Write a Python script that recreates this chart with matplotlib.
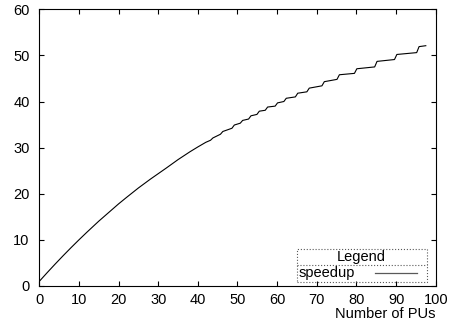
import matplotlib
matplotlib.use("Agg")
import matplotlib.pyplot as plt
from matplotlib.patches import Rectangle

plt.rcParams['font.family'] = ['Liberation Sans', 'DejaVu Sans']

# speedup curve (smooth part, then the stepped part)
pus = [0, 2, 4, 6, 8, 10, 12, 15, 18, 20, 22, 25, 28, 30, 32, 35, 38, 40, 42,
       43.2, 43.8, 45.7, 46.3, 48.6, 49.2, 50.7, 51.3, 52.8, 53.4, 54.9, 55.5,
       57.0, 57.6, 59.5, 60.1, 61.7, 62.3, 64.6, 65.2, 67.5, 68.1, 71.3, 71.9,
       75.1, 75.7, 79.5, 80.1, 84.6, 85.2, 89.6, 90.2, 95.2, 95.8, 97.5]
speedup = [1.0, 2.9, 4.75, 6.55, 8.3, 10.0, 11.65, 14.05, 16.3, 17.8, 19.2, 21.25, 23.15, 24.35, 25.55, 27.4, 29.1, 30.15, 31.15,
           31.6, 32.1, 32.9, 33.5, 34.2, 34.9, 35.3, 35.9, 36.2, 36.9, 37.2, 37.9,
           38.1, 38.8, 39.0, 39.7, 40.0, 40.7, 41.0, 41.8, 42.1, 42.9, 43.4, 44.3,
           44.8, 45.8, 46.1, 47.1, 47.5, 48.7, 49.1, 50.2, 50.6, 51.9, 52.1]

xticks = [0, 10, 20, 30, 40, 50, 60, 70, 80, 90, 100]
yticks = [0, 10, 20, 30, 40, 50, 60]

fs = 10.5

fig = plt.figure(figsize=(4.51, 3.31), dpi=100)
ax = fig.add_axes([0.0871, 0.136, 0.879, 0.836])

ax.plot(pus, speedup, color='black', lw=0.8)

ax.set_xlim(0, 100)
ax.set_ylim(0, 60)
ax.set_xticks(xticks)
ax.set_yticks(yticks)
ax.tick_params(direction='in', length=3.5, width=0.8, top=True, right=True,
               labelsize=fs, colors='black')
ax.tick_params(axis='x', pad=5)
ax.tick_params(axis='y', pad=7)
for s in ax.spines.values():
    s.set_linewidth(0.8)

ax.set_xlabel('Number of PUs', loc='right', fontsize=fs, labelpad=0)

# gnuplot-style legend box
x0, x1, y0, y1, ysep = 0.651, 0.977, 0.0134, 0.1326, 0.0759
ax.add_patch(Rectangle((x0, y0), x1 - x0, y1 - y0, transform=ax.transAxes,
                       fill=False, ls=':', lw=0.8, ec='0.35', zorder=3))
ax.plot([x0, x1], [ysep, ysep], transform=ax.transAxes, ls=':', lw=0.8, color='0.35')
ax.text(0.811, 0.1037, 'Legend', transform=ax.transAxes, ha='center', va='center', fontsize=fs)
ax.text(0.653, 0.0459, 'speedup', transform=ax.transAxes, ha='left', va='center', fontsize=fs)
ax.plot([0.847, 0.952], [0.0459, 0.0459], transform=ax.transAxes, color='0.35', lw=0.9)

fig.savefig('out.png', dpi=100)
